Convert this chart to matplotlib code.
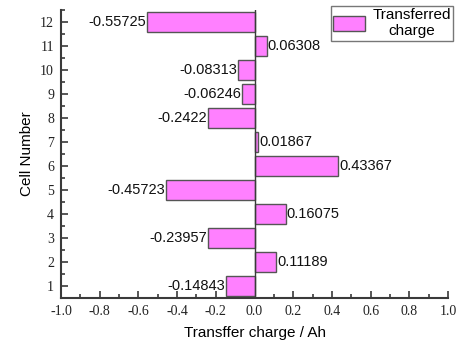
import matplotlib.pyplot as plt
from matplotlib.ticker import MultipleLocator

cells = list(range(1, 13))
charge = [-0.14843, 0.11189, -0.23957, 0.16075, -0.45723, 0.43367,
          0.01867, -0.2422, -0.06246, -0.08313, 0.06308, -0.55725]
labels = ["-0.14843", "0.11189", "-0.23957", "0.16075", "-0.45723", "0.43367",
          "0.01867", "-0.2422", "-0.06246", "-0.08313", "0.06308", "-0.55725"]
xticks = [-1.0, -0.8, -0.6, -0.4, -0.2, 0.0, 0.2, 0.4, 0.6, 0.8, 1.0]

AX = "#3a3a3a"

fig = plt.figure(figsize=(4.6, 3.47), dpi=100)
ax = fig.add_axes([0.1326, 0.1412, 0.8414, 0.8298])

ax.barh(cells, charge, height=0.8, color="#ff80ff", edgecolor="#555555",
        linewidth=1.0, label="Transferred\ncharge", zorder=2)
ax.axvline(0, color=AX, linewidth=1.0, zorder=3)

for y, v, s in zip(cells, charge, labels):
    if v < 0:
        ax.text(v - 0.005, y, s, ha="right", va="center", fontsize=10.5,
                family="Liberation Sans", color="#111111")
    else:
        ax.text(v + 0.005, y, s, ha="left", va="center", fontsize=10.5,
                family="Liberation Sans", color="#111111")

ax.set_xlim(-1.0, 1.0)
ax.set_ylim(0.5, 12.5)
ax.xaxis.set_minor_locator(MultipleLocator(0.1))
ax.yaxis.set_major_locator(MultipleLocator(1))
ax.yaxis.set_minor_locator(MultipleLocator(0.5))

for side in ("top", "right"):
    ax.spines[side].set_visible(False)
for side in ("left", "bottom"):
    ax.spines[side].set_color(AX)
    ax.spines[side].set_linewidth(1.5)

ax.tick_params(which="both", direction="in", color=AX, width=1.2)
ax.tick_params(which="major", length=5)
ax.tick_params(which="minor", length=3)
ax.tick_params(axis="both", labelsize=10, labelcolor="#222222", pad=5)
ax.set_xticks(xticks)
ax.set_xticklabels([f"{t:.1f}" for t in xticks], family="Liberation Serif")
for t in ax.get_yticklabels():
    t.set_family("Liberation Serif")

ax.set_xlabel("Transffer charge / Ah", fontsize=11, family="Liberation Sans", labelpad=6)
ax.set_ylabel("Cell Number", fontsize=11, family="Liberation Sans", labelpad=4)

leg = ax.legend(loc="upper right", bbox_to_anchor=(1.022, 1.025), frameon=True,
                fancybox=False, prop={"family": "Liberation Sans", "size": 11},
                handlelength=2.1, handleheight=1.1, borderpad=0.15, labelspacing=0.1,
                handletextpad=0.5, borderaxespad=0.2)
leg.get_frame().set_edgecolor("#555555")
leg.get_frame().set_linewidth(1.0)
for t in leg.get_texts():
    t.set_ha("center")

fig.savefig("out.png", dpi=100)
